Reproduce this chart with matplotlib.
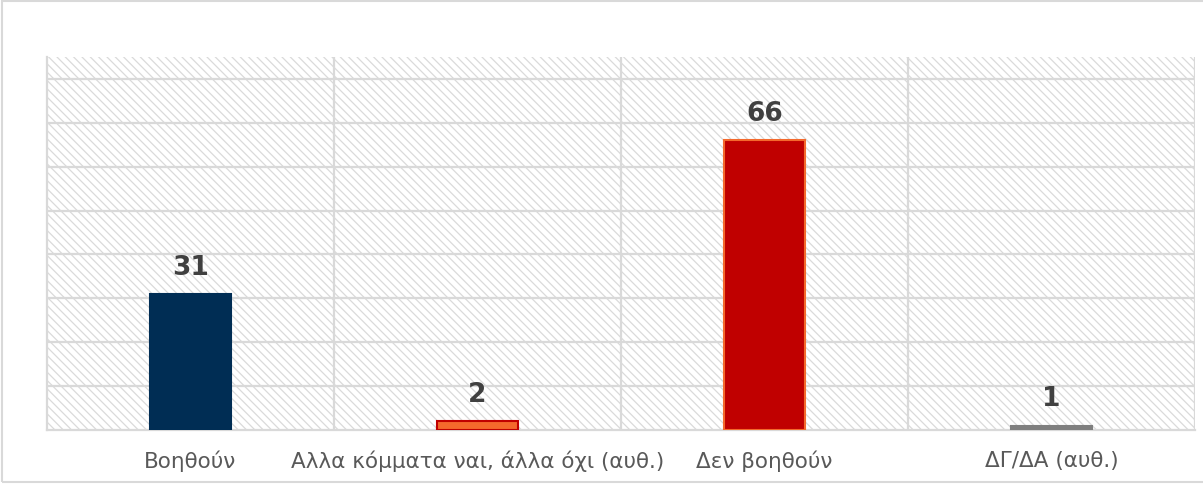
import matplotlib
matplotlib.use("Agg")
import matplotlib.pyplot as plt
from matplotlib.patches import Rectangle

# Data
categories = ["Βοηθούν", "Αλλα κόμματα ναι, άλλα όχι (αυθ.)", "Δεν βοηθούν", "ΔΓ/ΔΑ (αυθ.)"]
values = [31, 2, 66, 1]
fill_colors = ["#002D54", "#F4692C", "#C00000", "#7F7F7F"]
edge_colors = ["#002D54", "#C00000", "#F4692C", "#7F7F7F"]

GRID = "#d9d9d9"

plt.rcParams["font.family"] = ["DejaVu Sans"]
plt.rcParams["hatch.linewidth"] = 0.9

fig = plt.figure(figsize=(12.03, 4.84), dpi=100)
ax = fig.add_axes([47 / 1203, 54 / 484, 1148 / 1203, 373 / 484])

# hatched background
bg = Rectangle((0, 0), 1, 1, transform=ax.transAxes, facecolor="white",
               edgecolor="#dadada", hatch="\\\\\\\\", linewidth=0, zorder=0)
ax.add_patch(bg)

ax.set_xlim(-0.5, 3.5)
ax.set_ylim(0, 85)

# gridlines
for y in range(10, 90, 10):
    ax.axhline(y, color=GRID, lw=1.6, zorder=1)
for x in [0.5, 1.5, 2.5, 3.5]:
    ax.axvline(x, color=GRID, lw=1.6, zorder=1)

xs = list(range(len(categories)))
ax.bar(xs, values, width=0.28, color=fill_colors, edgecolor=edge_colors,
       linewidth=1.5, zorder=3)

for x, v in zip(xs, values):
    ax.text(x, v + 4.4, str(v), ha="center", va="baseline", fontsize=19,
            fontweight="bold", color="#404040", zorder=4)

ax.set_xticks(xs)
ax.set_xticklabels(categories, fontsize=15.5, color="#595959")
ax.tick_params(axis="x", length=0, pad=15)
ax.set_yticks([])

for side in ["top", "right"]:
    ax.spines[side].set_visible(False)
ax.spines["left"].set_color(GRID)
ax.spines["left"].set_linewidth(1.6)
ax.spines["bottom"].set_color(GRID)
ax.spines["bottom"].set_linewidth(1.6)

# outer frame
frame = Rectangle((2 / 1203, 2 / 484), 1.0, 481 / 484, transform=fig.transFigure,
                  fill=False, edgecolor=GRID, linewidth=1.5, zorder=10)
fig.patches.append(frame)

fig.savefig("out.png", dpi=100)
